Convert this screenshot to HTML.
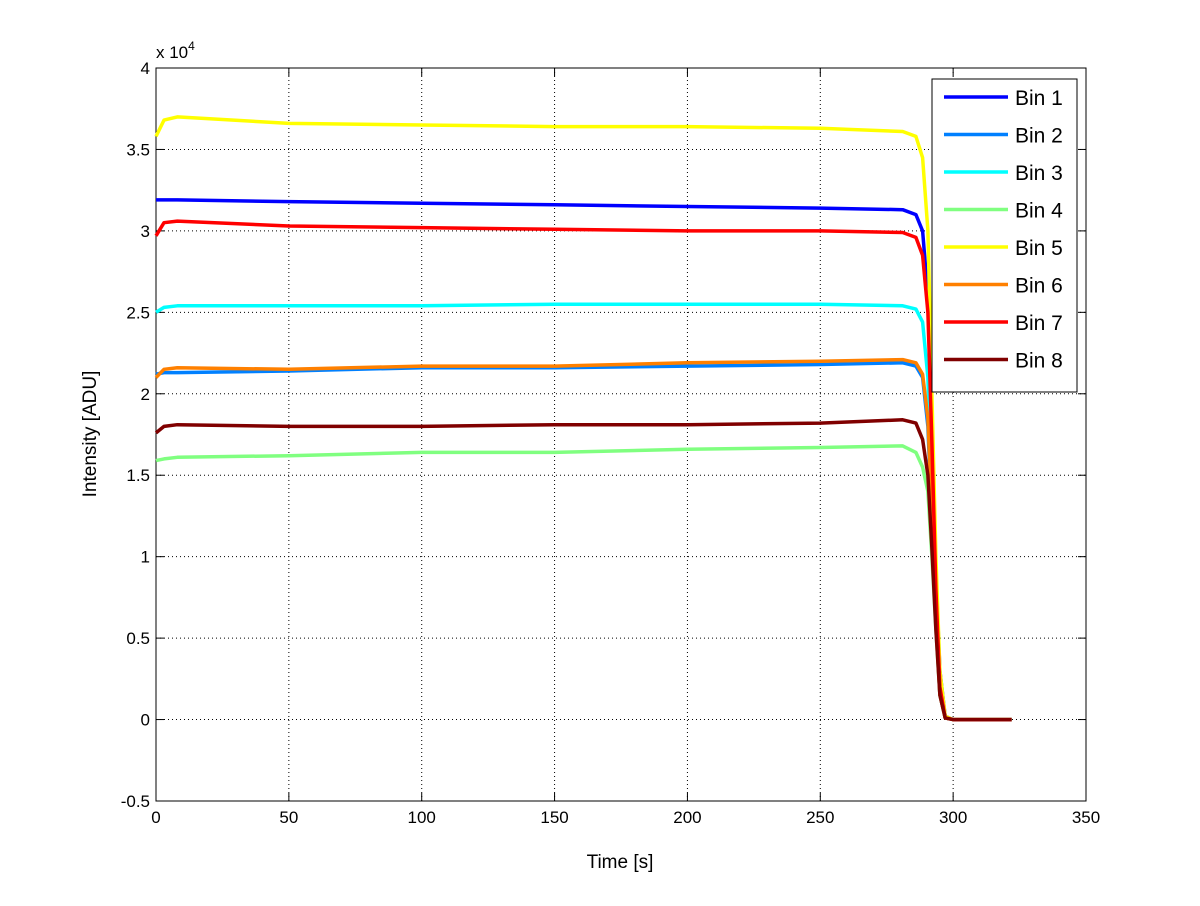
<!DOCTYPE html>
<html><head><meta charset="utf-8"><style>
body{margin:0;background:#fff;}
text{font-family:"Liberation Sans",sans-serif;}
</style></head><body>
<svg id="chart" width="1200" height="901" xmlns="http://www.w3.org/2000/svg"></svg>
<script>
const times = [0, 3, 8, 50, 100, 150, 200, 250, 281, 286, 288.5, 290.5, 292, 293.5, 295, 297, 300, 322];
const bin1 = [3.19,3.19,3.19,3.18,3.17,3.16,3.15,3.14,3.13,3.10,3.00,2.60,1.80,0.90,0.30,0.02,0,0];
const bin2 = [2.12,2.13,2.13,2.14,2.16,2.16,2.17,2.18,2.19,2.17,2.10,1.80,1.20,0.60,0.15,0.01,0,0];
const bin3 = [2.50,2.53,2.54,2.54,2.54,2.55,2.55,2.55,2.54,2.52,2.44,2.10,1.40,0.70,0.20,0.01,0,0];
const bin4 = [1.59,1.60,1.61,1.62,1.64,1.64,1.66,1.67,1.68,1.64,1.55,1.40,1.00,0.55,0.15,0.01,0,0];
const bin5 = [3.58,3.68,3.70,3.66,3.65,3.64,3.64,3.63,3.61,3.58,3.45,3.00,2.00,1.00,0.30,0.02,0,0];
const bin6 = [2.10,2.15,2.16,2.15,2.17,2.17,2.19,2.20,2.21,2.19,2.12,1.85,1.25,0.60,0.15,0.01,0,0];
const bin7 = [2.97,3.05,3.06,3.03,3.02,3.01,3.00,3.00,2.99,2.96,2.85,2.50,1.70,0.80,0.20,0.01,0,0];
const bin8 = [1.76,1.80,1.81,1.80,1.80,1.81,1.81,1.82,1.84,1.82,1.72,1.50,1.05,0.55,0.15,0.01,0,0];
const seriesNames = ["Bin 1","Bin 2","Bin 3","Bin 4","Bin 5","Bin 6","Bin 7","Bin 8"];
const seriesColors = ["#0000ff","#0080ff","#00ffff","#80ff80","#ffff00","#ff8000","#ff0000","#800000"];
const xTicks = [0,50,100,150,200,250,300,350];
const yTicks = [-0.5,0,0.5,1,1.5,2,2.5,3,3.5,4];

const NS="http://www.w3.org/2000/svg";
const svg=document.getElementById('chart');
const L=156,R=1086,T=68,B=801;
const X=t=>L+(t-0)/(350-0)*(R-L);
const Y=v=>B-(v+0.5)/(4.5)*(B-T);
function el(tag,attrs,parent){const e=document.createElementNS(NS,tag);for(const k in attrs)e.setAttribute(k,attrs[k]);(parent||svg).appendChild(e);return e;}

const grid=el('g',{});


xTicks.forEach(t=>{if(t>0&&t<350)el('line',{x1:X(t),x2:X(t),y1:T,y2:B,stroke:'#000','stroke-width':1,'stroke-dasharray':'1 3'},grid);});
yTicks.forEach(v=>{if(v>-0.5&&v<4)el('line',{x1:L,x2:R,y1:Y(v),y2:Y(v),stroke:'#000','stroke-width':1,'stroke-dasharray':'1 3'},grid);});

const axes=el('g',{});


el('rect',{x:L,y:T,width:R-L,height:B-T,fill:'none',stroke:'#000','stroke-width':1},axes);
xTicks.forEach(t=>{
  el('line',{x1:X(t),x2:X(t),y1:B,y2:B-8,stroke:'#000'},axes);
  el('line',{x1:X(t),x2:X(t),y1:T,y2:T+8,stroke:'#000'},axes);
  const tx=el('text',{x:X(t),y:B+22,'text-anchor':'middle','font-size':17},axes);
  tx.textContent=t;
  
  
});
yTicks.forEach(v=>{
  el('line',{x1:L,x2:L+8,y1:Y(v),y2:Y(v),stroke:'#000'},axes);
  el('line',{x1:R,x2:R-8,y1:Y(v),y2:Y(v),stroke:'#000'},axes);
  const tx=el('text',{x:L-6,y:Y(v)+6,'text-anchor':'end','font-size':17},axes);
  tx.textContent=v;
  
  
});
const ex=el('text',{x:156,y:58,'font-size':17});
ex.innerHTML='x 10<tspan dy="-8" font-size="12">4</tspan>';


const xl=el('text',{x:620,y:868,'text-anchor':'middle','font-size':19});
xl.textContent='Time [s]';


const yl=el('text',{x:0,y:0,'text-anchor':'middle','font-size':19,transform:'translate(96,434) rotate(-90)'});
yl.textContent='Intensity [ADU]';



const allSeries=[bin1,bin2,bin3,bin4,bin5,bin6,bin7,bin8];
const lines=el('g',{});


allSeries.forEach((s,i)=>{
  const d=s.map((v,j)=>(j?'L':'M')+X(times[j]).toFixed(1)+','+Y(v).toFixed(1)).join(' ');
  const p=el('path',{d:d,fill:'none',stroke:seriesColors[i],'stroke-width':3.5,'stroke-linejoin':'round'},lines);
  
  
});

const leg=el('g',{});


el('rect',{x:932,y:79,width:145,height:313,fill:'#fff',stroke:'#000'},leg);
seriesNames.forEach((n,i)=>{
  const yy=96+i*37.5+1;
  el('line',{x1:944,x2:1008,y1:yy,y2:yy,stroke:seriesColors[i],'stroke-width':3.5},leg);
  const t=el('text',{x:1015,y:yy+8,'font-size':21},leg);
  t.textContent=n;
  
  
});
</script>
</body></html>
